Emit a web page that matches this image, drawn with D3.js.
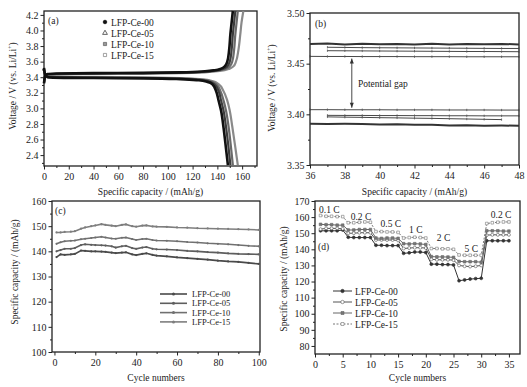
<!DOCTYPE html>
<html>
<head>
<meta charset="utf-8">
<script src="https://cdn.jsdelivr.net/npm/d3@7"></script>
<style>
  body { margin: 0; background: #fff; }
  text { font-family: "Liberation Serif", "DejaVu Serif", serif; fill: #222; }
</style>
</head>
<body>
<div id="chart"></div>
<script>
// ---- Data ----
const seriesNames = ["LFP-Ce-00", "LFP-Ce-05", "LFP-Ce-10", "LFP-Ce-15"];

// (a) charge / discharge curves: [capacity mAh/g, voltage V]
const aCharge00 = [[0,3.32],[1,3.42],[3,3.44],[10,3.447],[40,3.452],[80,3.456],[110,3.462],[130,3.476],[138,3.49],[143,3.51],[146,3.54],[148,3.6],[149.5,3.75],[150.5,3.95],[151.5,4.1],[152.5,4.25]];
const aCharge05 = [[0,3.33],[1,3.42],[3,3.44],[10,3.444],[40,3.449],[80,3.453],[110,3.459],[130,3.472],[139,3.487],[145,3.51],[148,3.54],[150,3.6],[151.5,3.75],[152.5,3.95],[153.5,4.1],[154.5,4.25]];
const aCharge10 = [[0,3.33],[1,3.41],[3,3.435],[10,3.44],[40,3.446],[80,3.45],[110,3.456],[130,3.468],[140,3.484],[147,3.51],[150,3.54],[152,3.6],[153.5,3.75],[154.5,3.95],[155.5,4.1],[156.5,4.25]];
const aCharge15 = [[0,3.34],[1,3.41],[3,3.43],[10,3.437],[40,3.442],[80,3.447],[110,3.452],[130,3.463],[142,3.48],[150,3.51],[153,3.54],[155,3.6],[157,3.75],[158.5,3.95],[159.5,4.1],[161,4.25]];
const aDis00 = [[0,3.52],[1,3.43],[3,3.40],[20,3.392],[40,3.389],[80,3.385],[110,3.375],[125,3.36],[132,3.34],[136,3.31],[139,3.22],[141,3.1],[143,2.97],[145,2.75],[147,2.48],[148.5,2.27]];
const aDis05 = [[0,3.51],[1,3.43],[3,3.405],[20,3.397],[40,3.395],[80,3.39],[110,3.38],[126,3.365],[133,3.345],[137.5,3.31],[141,3.22],[143,3.1],[145,2.97],[147,2.76],[149,2.5],[150.5,2.27]];
const aDis10 = [[0,3.50],[1,3.43],[3,3.41],[20,3.40],[40,3.398],[80,3.393],[110,3.384],[127,3.368],[134,3.35],[139,3.31],[142.5,3.22],[145,3.1],[147,2.97],[149,2.77],[151,2.5],[152.5,2.27]];
const aDis15 = [[0,3.50],[1,3.44],[3,3.415],[20,3.406],[40,3.404],[80,3.398],[110,3.39],[128,3.372],[136,3.35],[141,3.31],[145,3.22],[148,3.1],[150,2.97],[152,2.77],[154.5,2.5],[156.5,2.27]];

// (b) zoomed plateau region
const bCap = [36,37,38,39,40,41,42,43,44,45,46,47,48];
const bCharge00 = [3.4695,3.4698,3.4690,3.4697,3.4692,3.4695,3.4690,3.4696,3.4690,3.4695,3.4691,3.4695,3.4690];
const bCharge05 = [null,3.4662,3.4660,3.4658,3.4657,3.4656,3.4655,3.4654,3.4653,3.4652,3.4651,3.4650,3.4650];
const bCharge10 = [null,3.4628,3.4627,3.4626,3.4625,3.4624,3.4623,3.4622,3.4621,3.4620,3.4620,3.4619,3.4618];
const bCharge15 = [3.4572,3.4571,3.4571,3.4570,3.4570,3.4570,3.4569,3.4569,3.4569,3.4568,3.4568,3.4568,3.4568];
const bDis15 = [3.4046,3.4046,3.4045,3.4045,3.4045,3.4044,3.4044,3.4044,3.4043,3.4043,3.4043,3.4042,3.4042];
const bDis10 = [null,3.3990,3.3989,3.3989,3.3988,3.3988,3.3987,3.3987,3.3986,3.3986,3.3985,3.3985,3.3985];
const bDis05 = [null,3.3975,3.3972,3.3970,3.3967,3.3965,3.3962,3.3960,3.3957,3.3954,3.3951,3.3948,null];
const bDis00 = [3.3908,3.3905,3.3906,3.3904,3.3900,3.3902,3.3898,3.3896,3.3890,3.3892,3.3888,3.3889,3.3888];

// (c) cycling performance
const cCycles = [1,3,5,8,10,13,15,18,20,23,25,28,30,33,35,38,40,43,45,48,50,55,60,65,70,75,80,85,90,95,100];
const c00 = [137.7,138.8,138.6,138.8,139,140.3,140.2,140,140,139.9,139.8,139.5,139.3,139.5,139.6,138.8,138.5,139,139.2,138.6,138.3,138,137.6,137.3,137,136.7,136.3,136,135.8,135.4,135];
const c05 = [140,140.5,141,141,141.3,142.5,142.8,142.6,142.5,142.4,142.3,142,141.5,142,142.2,141.3,141,141.5,141.7,141,140.8,140.7,140.5,140.2,140,139.7,139.5,139.2,139,138.9,138.8];
const c10 = [143,143.6,144,144.2,144.3,144.8,145,145.3,145.5,145.8,145.5,145.1,145,145.4,145.5,144.9,144.5,144.9,145,144.5,144.3,144.2,144,143.7,143.5,143.2,143,142.8,142.5,142.2,142];
const c15 = [147.5,147.5,147.7,147.8,148,149,149.5,150,150.3,150.8,150.5,150.2,150,150.5,150.7,150,149.8,150.2,150.3,149.9,149.8,149.7,149.5,149.4,149.2,149.1,149,148.9,148.8,148.7,148.5];

// (d) rate capability, cycles 1..35
const dCycles = d3.range(1, 36);
const d00 = [151.5,151.5,151.5,151.5,152, 147.5,147.3,147.3,147.3,147.3, 142.5,142.5,142.3,142.3,142.3, 137.5,137.8,138.3,138.3,138, 130.8,130.8,130.5,130.5,130.3, 120.5,121,121.5,121.8,122, 145.3,145.3,145.3,145.3,145.3];
const d05 = [152.5,153,153,153,152.7, 150,150,150.3,150.3,150.3, 145.8,145.8,145.8,145.8,145.5, 140.5,140.8,141,141,140.8, 133.8,133.5,133.5,133.5,133.3, 130,129.5,129.3,129.5,130, 148.8,149,149,149,149];
const d10 = [155.5,155.3,155.3,155,155, 152,152,152.3,152.3,152.3, 147,146.8,147,147,146.8, 143.5,143.3,143.5,143.3,143, 135.5,135.3,135.3,135.2,135, 132.5,132.3,132.3,132.3,132, 151.5,151.5,151.5,151.3,151.3];
const d15 = [161,160.5,160.5,160.3,160.3, 156.5,156.5,156.8,157,156.8, 151,151,150.8,150.8,150.5, 147,147.3,147.5,147.3,147, 140.5,140.5,140.3,140.3,140, 136.5,136.3,136.3,136.3,136.3, 156,156.5,156.8,157,157];
const rateLabels = ["0.1 C", "0.2 C", "0.5 C", "1 C", "2 C", "5 C", "0.2 C"];
const rateLabelCycle = [2.6, 8.3, 13.7, 18.2, 23.2, 28.2, 33.6];
const rateLabelValue = [162.5, 158.4, 153.6, 150.4, 145.2, 138.6, 159.4];

// ---- Setup ----
const W = 527, H = 387;
const svg = d3.select("#chart").append("svg")
    .attr("width", W).attr("height", H);

const fs = 10;     // tick labels
const tfs = 9.5;   // titles and notes

function panel(opt) {
    const x = d3.scaleLinear().domain(opt.xd).range([opt.l, opt.r]);
    const y = d3.scaleLinear().domain(opt.yd).range([opt.b, opt.t]);
    const g = svg.append("g");

    // minor ticks
    g.append("g").attr("transform", `translate(0,${opt.b})`)
        .call(d3.axisBottom(x).tickValues(opt.xMinor).tickSize(2).tickFormat(""))
        .call(s => s.select(".domain").remove());
    g.append("g").attr("transform", `translate(${opt.l},0)`)
        .call(d3.axisLeft(y).tickValues(opt.yMinor).tickSize(2).tickFormat(""))
        .call(s => s.select(".domain").remove());

    const xa = g.append("g").attr("transform", `translate(0,${opt.b})`)
        .call(d3.axisBottom(x).tickValues(opt.xTicks).tickSize(3.5).tickPadding(3).tickFormat(opt.xFmt || d3.format("d")));
    const ya = g.append("g").attr("transform", `translate(${opt.l},0)`)
        .call(d3.axisLeft(y).tickValues(opt.yTicks).tickSize(3.5).tickPadding(2).tickFormat(opt.yFmt || d3.format("d")));
    [xa, ya].forEach(a => {
        a.select(".domain").remove();
        a.selectAll("text").style("font-size", fs + "px").style("font-family", "Liberation Serif");
    });
    g.selectAll(".tick line").attr("stroke", "#222");

    g.append("rect")
        .attr("x", opt.l).attr("y", opt.t)
        .attr("width", opt.r - opt.l).attr("height", opt.b - opt.t)
        .attr("fill", "none").attr("stroke", "#222").attr("stroke-width", 1.3);

    g.append("text")
        .attr("x", (opt.l + opt.r) / 2).attr("y", opt.xTitleY)
        .attr("text-anchor", "middle").style("font-size", tfs + "px")
        .text(opt.xTitle);

    const yt = g.append("text")
        .attr("transform", `translate(${opt.yTitleX},${opt.yTitleCY}) rotate(-90)`)
        .attr("text-anchor", "middle").style("font-size", tfs + "px");
    if (opt.ySup) {
        yt.append("tspan").text(opt.yTitle);
        yt.append("tspan").attr("dy", -4).style("font-size", "6px").text(opt.ySup);
        yt.append("tspan").attr("dy", 4).text(")");
    } else {
        yt.text(opt.yTitle);
    }
    return { x, y, g };
}

const line = (x, y) => d3.line().defined(d => d[1] != null).x(d => x(d[0])).y(d => y(d[1]));

// ---- (a) ----
const A = panel({
    l: 44, r: 257, t: 11, b: 166,
    xd: [0, 172], yd: [2.26, 4.25],
    xTicks: d3.range(0, 161, 20), xMinor: d3.range(10, 171, 20),
    yTicks: [2.4,2.6,2.8,3.0,3.2,3.4,3.6,3.8,4.0,4.2], yMinor: [2.3,2.5,2.7,2.9,3.1,3.3,3.5,3.7,3.9,4.1],
    yFmt: d3.format(".1f"),
    xTitle: "Specific capacity / (mAh/g)", xTitleY: 195,
    yTitle: "Voltage / V (vs. Li/Li", ySup: "+", yTitleX: 16, yTitleCY: 86
});
const aColors = ["#111", "#3c3c3c", "#6a6a6a", "#8a8a8a"];
const aWidths = [2.6, 2.2, 2.2, 2.2];
[[aCharge15, aDis15], [aCharge10, aDis10], [aCharge05, aDis05], [aCharge00, aDis00]].forEach((pair, k) => {
    const i = 3 - k;
    pair.forEach(data => {
        A.g.append("path").datum(data)
            .attr("d", line(A.x, A.y).curve(d3.curveMonotoneY))
            .attr("fill", "none").attr("stroke", aColors[i]).attr("stroke-width", aWidths[i]);
    });
});
A.g.append("text").attr("x", 48).attr("y", 24).style("font-size", tfs + "px").text("(a)");
const aSymbols = [d3.symbolCircle, d3.symbolTriangle, d3.symbolSquare, d3.symbolSquare];
const aFills = ["#111", "none", "#999", "none"];
seriesNames.forEach((n, i) => {
    const yy = 22 + i * 11;
    A.g.append("path")
        .attr("d", d3.symbol().type(aSymbols[i]).size(10)())
        .attr("transform", `translate(105,${yy})`)
        .attr("fill", aFills[i]).attr("stroke", aColors[i]).attr("stroke-width", 0.8);
    A.g.append("text").attr("x", 111).attr("y", yy + 3.5).style("font-size", tfs + "px").text(n);
});

// ---- (b) ----
const B = panel({
    l: 310, r: 519, t: 13, b: 165,
    xd: [36, 48], yd: [3.35, 3.50],
    xTicks: d3.range(36, 49, 2), xMinor: d3.range(37, 48, 2),
    yTicks: [3.35, 3.40, 3.45, 3.50], yMinor: [3.375, 3.425, 3.475],
    yFmt: d3.format(".2f"),
    xTitle: "Specific capacity / (mAh/g)", xTitleY: 195,
    yTitle: "Voltage / V (vs. Li/Li", ySup: "+", yTitleX: 275, yTitleCY: 88
});
const bSeries = [bCharge00, bCharge05, bCharge10, bCharge15, bDis15, bDis10, bDis05, bDis00];
const bWidths = [2, 0.9, 0.9, 0.9, 0.9, 0.9, 0.9, 2];
bSeries.forEach((vals, i) => {
    const data = bCap.map((c, j) => [c, vals[j]]);
    B.g.append("path").datum(data)
        .attr("d", line(B.x, B.y))
        .attr("fill", "none").attr("stroke", "#333").attr("stroke-width", bWidths[i]);
    if (bWidths[i] < 1) {
        B.g.selectAll(null).data(data.filter(d => d[1] != null)).enter()
            .append("line")
            .attr("x1", d => B.x(d[0])).attr("x2", d => B.x(d[0]))
            .attr("y1", d => B.y(d[1]) - 1.2).attr("y2", d => B.y(d[1]) + 1.2)
            .attr("stroke", "#444").attr("stroke-width", 0.7);
    }
});
B.g.append("line")
    .attr("x1", B.x(38.4)).attr("x2", B.x(38.4))
    .attr("y1", B.y(3.455)).attr("y2", B.y(3.4065))
    .attr("stroke", "#333").attr("stroke-width", 0.9);
[[3.455, 1], [3.4065, -1]].forEach(([v, dir]) => {
    const px = B.x(38.4), py = B.y(v);
    B.g.append("path")
        .attr("d", `M${px - 2},${py + dir * 5}L${px},${py}L${px + 2},${py + dir * 5}Z`)
        .attr("fill", "#333");
});
B.g.append("text").attr("x", B.x(38.75)).attr("y", B.y(3.43) + 3.5)
    .style("font-size", tfs + "px").text("Potential gap");
B.g.append("text").attr("x", 315).attr("y", 27).style("font-size", tfs + "px").text("(b)");

// ---- (c) ----
const C = panel({
    l: 52, r: 260, t: 201, b: 352,
    xd: [-1.2, 100.6], yd: [100, 160],
    xTicks: d3.range(0, 101, 20), xMinor: d3.range(10, 100, 20),
    yTicks: d3.range(100, 161, 10), yMinor: d3.range(105, 160, 10),
    xTitle: "Cycle numbers", xTitleY: 381,
    yTitle: "Specific capacity / (mAh/g)", yTitleX: 18, yTitleCY: 272
});
const cColors = ["#4a4a4a", "#5e5e5e", "#707070", "#7e7e7e"];
[c00, c05, c10, c15].forEach((vals, i) => {
    const data = cCycles.map((c, j) => [c, vals[j]]);
    C.g.append("path").datum(data)
        .attr("d", line(C.x, C.y))
        .attr("fill", "none").attr("stroke", cColors[i]).attr("stroke-width", 1.6);
    C.g.selectAll(null).data(data).enter().append("circle")
        .attr("cx", d => C.x(d[0])).attr("cy", d => C.y(d[1])).attr("r", 1.1)
        .attr("fill", cColors[i]);
});
C.g.append("text").attr("x", 55).attr("y", 214).style("font-size", tfs + "px").text("(c)");
seriesNames.forEach((n, i) => {
    const yy = 294 + i * 9.3;
    C.g.append("line").attr("x1", 160).attr("x2", 187).attr("y1", yy).attr("y2", yy)
        .attr("stroke", cColors[i]).attr("stroke-width", 1.6);
    C.g.append("circle").attr("cx", 173.5).attr("cy", yy).attr("r", 1.5).attr("fill", cColors[i]);
    C.g.append("text").attr("x", 192).attr("y", yy + 3).style("font-size", "8.5px").text(n);
});

// ---- (d) ----
const D = panel({
    l: 315, r: 520, t: 201, b: 354,
    xd: [0, 37], yd: [75, 170],
    xTicks: d3.range(0, 36, 5), xMinor: d3.range(2.5, 36, 5),
    yTicks: d3.range(80, 171, 10), yMinor: d3.range(85, 170, 10),
    xTitle: "Cycle numbers", xTitleY: 381,
    yTitle: "Specific capacity / (mAh/g)", yTitleX: 287, yTitleCY: 279
});
const dColors = ["#333", "#555", "#666", "#777"];
const dDash = [null, null, null, "2,1.5"];
const dSym = [d3.symbolCircle, d3.symbolCircle, d3.symbolSquare, d3.symbolSquare];
const dFill = ["#333", "#fff", "#777", "#fff"];
[d00, d05, d10, d15].forEach((vals, i) => {
    const data = dCycles.map((c, j) => [c, vals[j]]);
    D.g.append("path").datum(data)
        .attr("d", line(D.x, D.y))
        .attr("fill", "none").attr("stroke", dColors[i]).attr("stroke-width", 1)
        .attr("stroke-dasharray", dDash[i]);
    D.g.selectAll(null).data(data).enter().append("path")
        .attr("d", d3.symbol().type(dSym[i]).size(7)())
        .attr("transform", d => `translate(${D.x(d[0])},${D.y(d[1])})`)
        .attr("fill", dFill[i]).attr("stroke", dColors[i]).attr("stroke-width", 0.6);
});
rateLabels.forEach((t, i) => {
    D.g.append("text")
        .attr("x", D.x(rateLabelCycle[i])).attr("y", D.y(rateLabelValue[i]))
        .attr("text-anchor", "middle").style("font-size", tfs + "px").text(t);
});
D.g.append("text").attr("x", 318).attr("y", 250).style("font-size", tfs + "px").text("(d)");
seriesNames.forEach((n, i) => {
    const yy = 291 + i * 11;
    D.g.append("line").attr("x1", 333).attr("x2", 352).attr("y1", yy).attr("y2", yy)
        .attr("stroke", dColors[i]).attr("stroke-width", 1).attr("stroke-dasharray", dDash[i]);
    D.g.append("path").attr("d", d3.symbol().type(dSym[i]).size(9)())
        .attr("transform", `translate(342.5,${yy})`)
        .attr("fill", dFill[i]).attr("stroke", dColors[i]).attr("stroke-width", 0.6);
    D.g.append("text").attr("x", 355).attr("y", yy + 3.5).style("font-size", tfs + "px").text(n);
});
</script>
</body>
</html>
